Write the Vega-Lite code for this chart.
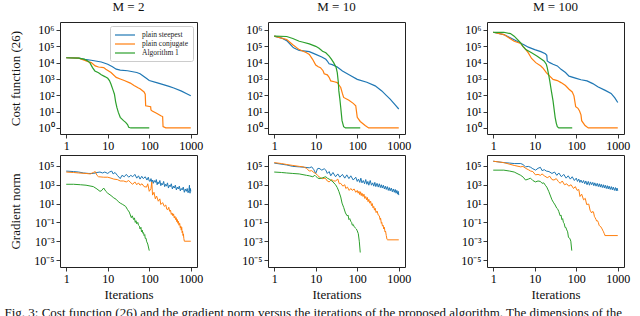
{
  "$schema": "https://vega.github.io/schema/vega-lite/v6.json",
  "padding": {"left": 4, "top": 0, "right": 0, "bottom": 0},
  "background": "white",
  "config": {
    "font": "Liberation Serif",
    "view": {"stroke": "#222222", "strokeWidth": 1},
    "axis": {"grid": false, "domain": false, "tickColor": "#222222", "tickSize": 4, "tickWidth": 0.9,
      "labelFont": "Liberation Serif", "labelFontSize": 12, "labelColor": "#000000", "labelPadding": 2, "labelFlush": false,
      "titleFont": "Liberation Serif", "titleFontSize": 13, "titleFontWeight": "normal", "titleColor": "#111111"},
    "title": {"font": "Liberation Serif", "fontSize": 13, "fontWeight": "normal", "color": "#111111"},
    "legend": {"rowPadding": 0, "labelLimit": 200},
    "line": {"strokeWidth": 1.2}
  },
  "title": {"text": "Fig. 3: Cost function (26) and the gradient norm versus the iterations of the proposed algorithm. The dimensions of the", "orient": "bottom", "anchor": "start", "font": "Liberation Serif", "fontSize": 13, "fontWeight": "normal", "offset": 5, "dx": -4},
  "datasets": {
    "c2s": [{"iter":1,"value":20000},{"iter":2,"value":19000},{"iter":2.8,"value":15800},{"iter":4,"value":14000},{"iter":7,"value":11000},{"iter":10,"value":8000},{"iter":13,"value":5600},{"iter":16,"value":4000},{"iter":20,"value":3500},{"iter":30,"value":3200},{"iter":50,"value":2500},{"iter":60,"value":2100},{"iter":70,"value":1600},{"iter":85,"value":1100},{"iter":100,"value":800},{"iter":150,"value":600},{"iter":190,"value":500},{"iter":300,"value":350},{"iter":390,"value":280},{"iter":600,"value":180},{"iter":800,"value":125},{"iter":1000,"value":93}],
    "c2c": [{"iter":1,"value":20000},{"iter":2,"value":19000},{"iter":2.8,"value":13800},{"iter":3.5,"value":11200},{"iter":4,"value":10000},{"iter":5,"value":6300},{"iter":6,"value":5400},{"iter":8,"value":5000},{"iter":9,"value":4000},{"iter":12,"value":2500},{"iter":16,"value":1250},{"iter":20,"value":1000},{"iter":25,"value":800},{"iter":35,"value":560},{"iter":43,"value":400},{"iter":55,"value":280},{"iter":60,"value":250},{"iter":75,"value":160},{"iter":80,"value":117},{"iter":82,"value":23},{"iter":108,"value":20},{"iter":110,"value":12.6},{"iter":118,"value":11},{"iter":150,"value":8},{"iter":190,"value":5.6},{"iter":210,"value":5},{"iter":215,"value":1.2},{"iter":250,"value":1.02},{"iter":270,"value":1},{"iter":1000,"value":1}],
    "c2a": [{"iter":1,"value":20000},{"iter":2,"value":19000},{"iter":2.8,"value":15800},{"iter":3.3,"value":12600},{"iter":3.7,"value":10000},{"iter":4.3,"value":5000},{"iter":4.9,"value":3100},{"iter":6,"value":2400},{"iter":7,"value":1800},{"iter":8.5,"value":1400},{"iter":10,"value":1100},{"iter":11,"value":800},{"iter":12,"value":480},{"iter":13.5,"value":200},{"iter":14.5,"value":117},{"iter":15.5,"value":40},{"iter":16.6,"value":18},{"iter":18,"value":9},{"iter":20,"value":4.5},{"iter":24,"value":2.8},{"iter":27,"value":2.2},{"iter":30,"value":1.6},{"iter":32,"value":1.1},{"iter":36,"value":1},{"iter":100,"value":1}],
    "c10s": [{"iter":1,"value":420000},{"iter":1.5,"value":320000},{"iter":2,"value":224000},{"iter":2.8,"value":89000},{"iter":3,"value":79000},{"iter":4,"value":56000},{"iter":5,"value":52000},{"iter":7,"value":47000},{"iter":10,"value":32000},{"iter":14,"value":22000},{"iter":17.5,"value":16000},{"iter":19,"value":12600},{"iter":21,"value":8500},{"iter":25,"value":7600},{"iter":33,"value":5400},{"iter":44,"value":3100},{"iter":70,"value":1600},{"iter":100,"value":950},{"iter":170,"value":630},{"iter":270,"value":380},{"iter":390,"value":186},{"iter":500,"value":100},{"iter":620,"value":58},{"iter":800,"value":28},{"iter":1000,"value":14.5}],
    "c10c": [{"iter":1,"value":420000},{"iter":2,"value":263000},{"iter":2.8,"value":126000},{"iter":4,"value":63000},{"iter":6,"value":40000},{"iter":7,"value":32000},{"iter":8.4,"value":16000},{"iter":10,"value":7100},{"iter":11.5,"value":5600},{"iter":13,"value":4900},{"iter":15,"value":3200},{"iter":16,"value":2100},{"iter":19,"value":1800},{"iter":21,"value":1260},{"iter":23,"value":760},{"iter":28,"value":680},{"iter":33,"value":600},{"iter":37,"value":400},{"iter":40,"value":300},{"iter":44,"value":126},{"iter":47,"value":74},{"iter":63,"value":50},{"iter":80,"value":32},{"iter":92,"value":23},{"iter":100,"value":4.5},{"iter":118,"value":2.5},{"iter":155,"value":1.4},{"iter":188,"value":1},{"iter":1000,"value":1}],
    "c10a": [{"iter":1,"value":420000},{"iter":2,"value":400000},{"iter":2.8,"value":300000},{"iter":4,"value":204000},{"iter":5,"value":178000},{"iter":7,"value":141000},{"iter":10,"value":100000},{"iter":12,"value":76000},{"iter":14.6,"value":50000},{"iter":17.5,"value":40000},{"iter":21,"value":25000},{"iter":24,"value":16000},{"iter":27,"value":10000},{"iter":31,"value":5000},{"iter":33,"value":2450},{"iter":35,"value":630},{"iter":36,"value":186},{"iter":38,"value":63},{"iter":40,"value":18},{"iter":43,"value":2.8},{"iter":47,"value":1.2},{"iter":52,"value":1},{"iter":118,"value":1}],
    "c100s": [{"iter":1,"value":725000},{"iter":1.8,"value":525000},{"iter":3.2,"value":250000},{"iter":4.5,"value":160000},{"iter":5.5,"value":126000},{"iter":7,"value":89000},{"iter":10,"value":63000},{"iter":14,"value":47000},{"iter":18,"value":35000},{"iter":19.5,"value":28000},{"iter":20,"value":12600},{"iter":23,"value":10000},{"iter":27.6,"value":8000},{"iter":35,"value":6300},{"iter":43,"value":3900},{"iter":55,"value":2500},{"iter":67,"value":1500},{"iter":100,"value":1100},{"iter":130,"value":900},{"iter":182,"value":760},{"iter":250,"value":520},{"iter":330,"value":330},{"iter":500,"value":200},{"iter":690,"value":130},{"iter":850,"value":70},{"iter":1000,"value":36}],
    "c100c": [{"iter":1,"value":725000},{"iter":1.8,"value":525000},{"iter":3.2,"value":204000},{"iter":4.6,"value":148000},{"iter":5.2,"value":100000},{"iter":6.1,"value":63000},{"iter":7,"value":40000},{"iter":8.4,"value":18000},{"iter":10.6,"value":10000},{"iter":14,"value":6200},{"iter":16,"value":4500},{"iter":19,"value":2450},{"iter":23,"value":1500},{"iter":27.6,"value":950},{"iter":35,"value":800},{"iter":43,"value":600},{"iter":55,"value":400},{"iter":67,"value":235},{"iter":80,"value":160},{"iter":88,"value":93},{"iter":97,"value":20},{"iter":110,"value":16},{"iter":120,"value":11},{"iter":130,"value":6.3},{"iter":135,"value":2.8},{"iter":163,"value":1.4},{"iter":195,"value":1},{"iter":1000,"value":1}],
    "c100a": [{"iter":1,"value":725000},{"iter":1.8,"value":725000},{"iter":2.6,"value":600000},{"iter":3.2,"value":420000},{"iter":4.6,"value":160000},{"iter":5.2,"value":100000},{"iter":6.1,"value":63000},{"iter":8.4,"value":40000},{"iter":11.5,"value":25000},{"iter":16.7,"value":12600},{"iter":19,"value":8000},{"iter":20,"value":4900},{"iter":21.5,"value":2000},{"iter":23,"value":760},{"iter":25,"value":200},{"iter":27.6,"value":46},{"iter":31,"value":4.5},{"iter":33,"value":2},{"iter":35,"value":1.2},{"iter":38,"value":1},{"iter":80,"value":1}],
    "g2s": [{"iter":1,"value":28200},{"iter":1.5,"value":25100},{"iter":2,"value":22400},{"iter":2.6,"value":17800},{"iter":3.5,"value":15800},{"iter":4.5,"value":15800},{"iter":5.5,"value":20000},{"iter":6.5,"value":22400},{"iter":7.5,"value":17800},{"iter":8.5,"value":22400},{"iter":10,"value":15800},{"iter":11,"value":22400},{"iter":12.5,"value":28200},{"iter":13.5,"value":14100},{"iter":15,"value":20000},{"iter":17,"value":10000},{"iter":20,"value":4470},{"iter":22,"value":10000},{"iter":25,"value":7080},{"iter":28,"value":12600},{"iter":32,"value":6310},{"iter":36,"value":10000},{"iter":40,"value":7080},{"iter":45,"value":12600},{"iter":50,"value":5010},{"iter":55,"value":8910},{"iter":60,"value":3980},{"iter":66,"value":7940},{"iter":72,"value":4470},{"iter":80,"value":7080},{"iter":88,"value":3160},{"iter":95,"value":6310},{"iter":100,"value":2500},{"iter":105,"value":2240},{"iter":110,"value":4470},{"iter":115,"value":2000},{"iter":120,"value":3160},{"iter":125,"value":1410},{"iter":132,"value":2820},{"iter":140,"value":1780},{"iter":148,"value":3550},{"iter":155,"value":1000},{"iter":162,"value":2000},{"iter":170,"value":1260},{"iter":180,"value":2820},{"iter":190,"value":794},{"iter":200,"value":1410},{"iter":210,"value":1000},{"iter":222,"value":2240},{"iter":235,"value":630},{"iter":248,"value":1120},{"iter":260,"value":708},{"iter":275,"value":1580},{"iter":290,"value":447},{"iter":305,"value":891},{"iter":320,"value":631},{"iter":340,"value":1260},{"iter":360,"value":355},{"iter":380,"value":708},{"iter":400,"value":447},{"iter":425,"value":891},{"iter":450,"value":282},{"iter":475,"value":562},{"iter":500,"value":355},{"iter":530,"value":708},{"iter":560,"value":224},{"iter":590,"value":398},{"iter":620,"value":282},{"iter":660,"value":562},{"iter":700,"value":158},{"iter":740,"value":355},{"iter":780,"value":200},{"iter":820,"value":398},{"iter":860,"value":141},{"iter":900,"value":251},{"iter":930,"value":891},{"iter":945,"value":178},{"iter":960,"value":126},{"iter":980,"value":398},{"iter":1000,"value":200}],
    "g2c": [{"iter":1,"value":22400},{"iter":1.5,"value":20000},{"iter":2,"value":17800},{"iter":3,"value":15800},{"iter":3.8,"value":14100},{"iter":4.5,"value":20000},{"iter":5,"value":25100},{"iter":5.5,"value":10000},{"iter":6,"value":7080},{"iter":8,"value":6310},{"iter":10,"value":6310},{"iter":12,"value":5010},{"iter":14,"value":3980},{"iter":17,"value":3550},{"iter":20,"value":2510},{"iter":24,"value":2510},{"iter":28,"value":2000},{"iter":32,"value":2820},{"iter":36,"value":1580},{"iter":40,"value":1120},{"iter":45,"value":2000},{"iter":50,"value":1000},{"iter":55,"value":1580},{"iter":60,"value":891},{"iter":67,"value":1260},{"iter":75,"value":631},{"iter":86,"value":562},{"iter":92,"value":1260},{"iter":100,"value":200},{"iter":110,"value":398},{"iter":115,"value":2000},{"iter":120,"value":79.4},{"iter":130,"value":158},{"iter":140,"value":31.6},{"iter":150,"value":63.1},{"iter":165,"value":17.8},{"iter":180,"value":31.6},{"iter":190,"value":7.94},{"iter":210,"value":12.6},{"iter":230,"value":5.01},{"iter":250,"value":7.08},{"iter":265,"value":2.5},{"iter":280,"value":2.24},{"iter":295,"value":4},{"iter":310,"value":1.5},{"iter":325,"value":2},{"iter":340,"value":0.7},{"iter":355,"value":1},{"iter":370,"value":0.5},{"iter":385,"value":0.8},{"iter":400,"value":0.3},{"iter":415,"value":0.45},{"iter":430,"value":0.2},{"iter":445,"value":0.32},{"iter":460,"value":0.12},{"iter":475,"value":0.2},{"iter":490,"value":0.08},{"iter":505,"value":0.13},{"iter":520,"value":0.05},{"iter":540,"value":0.08},{"iter":560,"value":0.025},{"iter":575,"value":0.04},{"iter":590,"value":0.015},{"iter":605,"value":0.03},{"iter":620,"value":0.008},{"iter":635,"value":0.012},{"iter":650,"value":0.004},{"iter":665,"value":0.006},{"iter":680,"value":0.002},{"iter":700,"value":0.001},{"iter":1000,"value":0.001}],
    "g2a": [{"iter":1,"value":1120},{"iter":1.5,"value":1120},{"iter":2.2,"value":1000},{"iter":3,"value":891},{"iter":4.5,"value":631},{"iter":5.5,"value":355},{"iter":6.5,"value":200},{"iter":7,"value":224},{"iter":8,"value":447},{"iter":9,"value":200},{"iter":10,"value":126},{"iter":12,"value":70.8},{"iter":14,"value":39.8},{"iter":16,"value":28.2},{"iter":18,"value":15.8},{"iter":20,"value":11.2},{"iter":23,"value":7.94},{"iter":27,"value":5.01},{"iter":30,"value":2.24},{"iter":33,"value":1.26},{"iter":37,"value":0.316},{"iter":39,"value":0.5},{"iter":42,"value":0.2},{"iter":44,"value":0.3},{"iter":46,"value":0.1},{"iter":48,"value":0.15},{"iter":50,"value":0.07},{"iter":53,"value":0.1},{"iter":55,"value":0.05},{"iter":58,"value":0.04},{"iter":60,"value":0.02},{"iter":63,"value":0.03},{"iter":65,"value":0.01},{"iter":68,"value":0.015},{"iter":70,"value":0.007},{"iter":73,"value":0.008},{"iter":75,"value":0.004},{"iter":78,"value":0.005},{"iter":80,"value":0.002},{"iter":84,"value":0.002},{"iter":86,"value":0.001},{"iter":92,"value":0.0005},{"iter":100,"value":0.0001}],
    "g10s": [{"iter":1,"value":200000},{"iter":2,"value":126000},{"iter":2.8,"value":89100},{"iter":4,"value":79400},{"iter":5.5,"value":70800},{"iter":7,"value":63100},{"iter":8,"value":79400},{"iter":9,"value":39800},{"iter":10,"value":15800},{"iter":11,"value":50100},{"iter":12,"value":56200},{"iter":14,"value":35500},{"iter":16,"value":50100},{"iter":17.5,"value":35500},{"iter":19,"value":15800},{"iter":21,"value":25100},{"iter":23,"value":8910},{"iter":26,"value":20000},{"iter":30,"value":7080},{"iter":34,"value":14100},{"iter":38,"value":6310},{"iter":44,"value":12600},{"iter":50,"value":5010},{"iter":56,"value":11200},{"iter":63,"value":4470},{"iter":70,"value":8910},{"iter":80,"value":3160},{"iter":92,"value":6310},{"iter":100,"value":2240},{"iter":107,"value":3980},{"iter":115,"value":1780},{"iter":122,"value":5010},{"iter":130,"value":1580},{"iter":140,"value":2820},{"iter":150,"value":1260},{"iter":160,"value":3550},{"iter":170,"value":1120},{"iter":180,"value":2240},{"iter":190,"value":891},{"iter":205,"value":2820},{"iter":220,"value":891},{"iter":235,"value":1580},{"iter":250,"value":708},{"iter":265,"value":1780},{"iter":280,"value":631},{"iter":300,"value":1410},{"iter":320,"value":562},{"iter":340,"value":1260},{"iter":360,"value":501},{"iter":380,"value":1000},{"iter":400,"value":447},{"iter":425,"value":891},{"iter":450,"value":355},{"iter":475,"value":708},{"iter":500,"value":316},{"iter":530,"value":631},{"iter":560,"value":251},{"iter":590,"value":501},{"iter":620,"value":224},{"iter":660,"value":447},{"iter":700,"value":178},{"iter":740,"value":355},{"iter":780,"value":158},{"iter":820,"value":316},{"iter":860,"value":126},{"iter":900,"value":251},{"iter":940,"value":100},{"iter":970,"value":200},{"iter":1000,"value":79.4}],
    "g10c": [{"iter":1,"value":224000},{"iter":1.5,"value":178000},{"iter":2,"value":141000},{"iter":2.8,"value":112000},{"iter":4,"value":89100},{"iter":5,"value":79400},{"iter":6,"value":56200},{"iter":7,"value":28200},{"iter":8,"value":31600},{"iter":9,"value":20000},{"iter":10,"value":15800},{"iter":11,"value":10000},{"iter":12,"value":7080},{"iter":13,"value":5620},{"iter":14.5,"value":4470},{"iter":17,"value":5010},{"iter":19,"value":2510},{"iter":21,"value":2000},{"iter":24,"value":3550},{"iter":27,"value":2510},{"iter":30,"value":2510},{"iter":34,"value":3980},{"iter":37,"value":1260},{"iter":40,"value":1410},{"iter":45,"value":708},{"iter":50,"value":1000},{"iter":53,"value":398},{"iter":58,"value":562},{"iter":64,"value":251},{"iter":70,"value":398},{"iter":76,"value":251},{"iter":84,"value":355},{"iter":92,"value":158},{"iter":100,"value":251},{"iter":105,"value":126},{"iter":110,"value":200},{"iter":115,"value":89},{"iter":120,"value":178},{"iter":125,"value":70},{"iter":130,"value":126},{"iter":138,"value":56},{"iter":145,"value":100},{"iter":152,"value":35},{"iter":160,"value":56},{"iter":168,"value":25},{"iter":175,"value":45},{"iter":182,"value":16},{"iter":190,"value":28},{"iter":200,"value":11},{"iter":210,"value":18},{"iter":220,"value":6},{"iter":230,"value":10},{"iter":240,"value":3.5},{"iter":250,"value":5},{"iter":260,"value":2},{"iter":270,"value":3.2},{"iter":285,"value":1.1},{"iter":300,"value":1.6},{"iter":320,"value":0.6},{"iter":340,"value":0.5},{"iter":355,"value":0.2},{"iter":365,"value":0.28},{"iter":380,"value":0.08},{"iter":390,"value":0.1},{"iter":405,"value":0.04},{"iter":420,"value":0.05},{"iter":435,"value":0.02},{"iter":450,"value":0.03},{"iter":465,"value":0.01},{"iter":480,"value":0.012},{"iter":500,"value":0.004},{"iter":520,"value":0.0016},{"iter":540,"value":0.0014},{"iter":1000,"value":0.0014}],
    "g10a": [{"iter":1,"value":22400},{"iter":1.5,"value":20000},{"iter":2,"value":17800},{"iter":2.8,"value":15800},{"iter":4,"value":14100},{"iter":6,"value":10000},{"iter":7,"value":8910},{"iter":8.5,"value":7080},{"iter":9.5,"value":10000},{"iter":10,"value":7940},{"iter":11,"value":5620},{"iter":12,"value":4470},{"iter":14,"value":5010},{"iter":16,"value":6310},{"iter":17.5,"value":7080},{"iter":19,"value":5010},{"iter":21,"value":3980},{"iter":23,"value":3160},{"iter":26,"value":2000},{"iter":30,"value":1000},{"iter":33,"value":501},{"iter":36,"value":200},{"iter":40,"value":50.1},{"iter":43,"value":11.2},{"iter":47,"value":3.98},{"iter":52,"value":1},{"iter":57,"value":0.501},{"iter":60,"value":0.6},{"iter":63,"value":0.2},{"iter":66,"value":0.25},{"iter":70,"value":0.126},{"iter":73,"value":0.1},{"iter":76,"value":0.0501},{"iter":80,"value":0.06},{"iter":83,"value":0.0398},{"iter":87,"value":0.03},{"iter":90,"value":0.0251},{"iter":95,"value":0.02},{"iter":100,"value":0.0126},{"iter":106,"value":0.00631},{"iter":112,"value":0.001},{"iter":118,"value":0.0000631}],
    "g100s": [{"iter":1,"value":316000},{"iter":1.8,"value":224000},{"iter":2.5,"value":200000},{"iter":3.2,"value":178000},{"iter":4.6,"value":178000},{"iter":5.2,"value":141000},{"iter":6,"value":79400},{"iter":7,"value":89100},{"iter":8,"value":70800},{"iter":9,"value":50100},{"iter":10.5,"value":35500},{"iter":12,"value":56200},{"iter":13.7,"value":70800},{"iter":15,"value":31600},{"iter":17,"value":39800},{"iter":19,"value":28200},{"iter":22,"value":25100},{"iter":26,"value":15800},{"iter":30,"value":22400},{"iter":34,"value":10000},{"iter":38,"value":17800},{"iter":44,"value":7080},{"iter":50,"value":12600},{"iter":57,"value":5010},{"iter":64,"value":8910},{"iter":72,"value":3980},{"iter":80,"value":7080},{"iter":90,"value":2820},{"iter":100,"value":5010},{"iter":107,"value":2240},{"iter":115,"value":3980},{"iter":122,"value":1780},{"iter":130,"value":3160},{"iter":140,"value":1580},{"iter":150,"value":2820},{"iter":160,"value":1260},{"iter":170,"value":2510},{"iter":182,"value":1000},{"iter":195,"value":2240},{"iter":208,"value":891},{"iter":220,"value":2000},{"iter":235,"value":1000},{"iter":250,"value":1780},{"iter":265,"value":794},{"iter":280,"value":1580},{"iter":300,"value":708},{"iter":320,"value":1410},{"iter":340,"value":631},{"iter":360,"value":1260},{"iter":380,"value":562},{"iter":400,"value":1120},{"iter":425,"value":501},{"iter":450,"value":1000},{"iter":475,"value":447},{"iter":500,"value":891},{"iter":530,"value":398},{"iter":560,"value":794},{"iter":590,"value":355},{"iter":620,"value":708},{"iter":660,"value":316},{"iter":700,"value":631},{"iter":740,"value":282},{"iter":780,"value":562},{"iter":830,"value":251},{"iter":880,"value":501},{"iter":920,"value":224},{"iter":960,"value":447},{"iter":1000,"value":224}],
    "g100c": [{"iter":1,"value":316000},{"iter":1.8,"value":224000},{"iter":3.2,"value":112000},{"iter":4.6,"value":79400},{"iter":5.2,"value":89100},{"iter":6,"value":56200},{"iter":7,"value":39800},{"iter":8,"value":28200},{"iter":9,"value":25100},{"iter":10.4,"value":11200},{"iter":12,"value":12600},{"iter":13.7,"value":10000},{"iter":15,"value":14100},{"iter":17,"value":8910},{"iter":20,"value":5620},{"iter":23,"value":7940},{"iter":26,"value":3550},{"iter":29,"value":3160},{"iter":33,"value":4470},{"iter":37,"value":2240},{"iter":41,"value":1410},{"iter":46,"value":2510},{"iter":52,"value":1000},{"iter":59,"value":1260},{"iter":66,"value":708},{"iter":75,"value":1000},{"iter":86,"value":398},{"iter":95,"value":631},{"iter":105,"value":251},{"iter":115,"value":316},{"iter":123,"value":56.2},{"iter":135,"value":100},{"iter":150,"value":25.1},{"iter":165,"value":35.5},{"iter":178,"value":7.94},{"iter":200,"value":8.91},{"iter":215,"value":2},{"iter":235,"value":1},{"iter":250,"value":1.5},{"iter":260,"value":1.26},{"iter":275,"value":0.4},{"iter":285,"value":0.316},{"iter":300,"value":0.2},{"iter":309,"value":0.141},{"iter":325,"value":0.15},{"iter":340,"value":0.1},{"iter":355,"value":0.05},{"iter":370,"value":0.0398},{"iter":390,"value":0.035},{"iter":406,"value":0.0251},{"iter":420,"value":0.02},{"iter":440,"value":0.0126},{"iter":455,"value":0.01},{"iter":470,"value":0.00631},{"iter":480,"value":0.006},{"iter":490,"value":0.00398},{"iter":1000,"value":0.00398}],
    "g100a": [{"iter":1,"value":35500},{"iter":1.8,"value":35500},{"iter":2.5,"value":28200},{"iter":3.2,"value":22400},{"iter":4.6,"value":10000},{"iter":5.3,"value":6310},{"iter":6,"value":3160},{"iter":7,"value":3980},{"iter":7.9,"value":5010},{"iter":9,"value":2820},{"iter":10.4,"value":2000},{"iter":12,"value":2510},{"iter":13.7,"value":2240},{"iter":15,"value":1410},{"iter":16.5,"value":1580},{"iter":18,"value":891},{"iter":19.5,"value":562},{"iter":21.7,"value":200},{"iter":24,"value":63.1},{"iter":26,"value":25.1},{"iter":28,"value":14.1},{"iter":31,"value":7.08},{"iter":34,"value":3.16},{"iter":36,"value":2.5},{"iter":38,"value":1.41},{"iter":41,"value":0.501},{"iter":43,"value":0.6},{"iter":45,"value":0.2},{"iter":47,"value":0.25},{"iter":49,"value":0.1},{"iter":51,"value":0.08},{"iter":54,"value":0.0282},{"iter":56,"value":0.03},{"iter":59,"value":0.0158},{"iter":62,"value":0.01},{"iter":65,"value":0.00251},{"iter":70,"value":0.002},{"iter":74,"value":0.001},{"iter":78,"value":0.0001}]
  },
  "resolve": {"scale": {"color": "independent"}, "legend": {"color": "independent"}},
  "spacing": 37,
  "hconcat": [
    {
      "spacing": 2,
      "resolve": {"scale": {"color": "independent"}, "legend": {"color": "independent"}},
      "vconcat": [
        {
          "width": 137, "height": 112,
          "title": {"text": "M = 2", "offset": 8, "font": "Liberation Serif", "fontWeight": "normal", "fontSize": 13},
          "encoding": {
            "x": {"field": "iter", "type": "quantitative", "scale": {"type": "log", "domain": [0.708, 1413]}, "axis": {"values": [1, 10, 100, 1000], "format": "d", "title": null}},
            "y": {"field": "value", "type": "quantitative", "scale": {"type": "log", "domain": [0.427, 3090000]}, "axis": {"values": [1, 10, 100, 1000, 10000, 100000, 1000000], "labelExpr": "'10' + (round(log(datum.value)/LN10) < 0 ? '⁻' : '') + substring('⁰¹²³⁴⁵⁶⁷⁸⁹', abs(round(log(datum.value)/LN10)), abs(round(log(datum.value)/LN10)) + 1)", "title": "Cost function (26)", "titleFontWeight": "normal", "titlePadding": 8, "minExtent": 30, "maxExtent": 30}}
          },
          "layer": [
            {"data": {"name": "c2s"}, "mark": "line", "encoding": {"color": {"datum": "plain steepest", "scale": {"domain": ["plain steepest", "plain conjugate", "Algorithm 1"], "range": ["#1f77b4", "#ff7f0e", "#2ca02c"]}, "legend": {"title": null, "orient": "top-right", "offset": 4, "symbolType": "M-1,0H4", "symbolSize": 64, "symbolStrokeWidth": 1.5, "labelFont": "Liberation Serif", "labelFontSize": 7.5, "labelColor": "#222222", "rowPadding": 0, "padding": 4, "strokeColor": "#cccccc", "fillColor": "#ffffff", "cornerRadius": 2, "labelOffset": 18}}}},
            {"data": {"name": "c2c"}, "mark": "line", "encoding": {"color": {"datum": "plain conjugate"}}},
            {"data": {"name": "c2a"}, "mark": "line", "encoding": {"color": {"datum": "Algorithm 1"}}}
          ]
        },
        {
          "width": 137, "height": 112,
          "encoding": {
            "x": {"field": "iter", "type": "quantitative", "scale": {"type": "log", "domain": [0.708, 1413]}, "axis": {"values": [1, 10, 100, 1000], "format": "d", "title": "Iterations", "titleFontWeight": "normal", "titlePadding": 4}},
            "y": {"field": "value", "type": "quantitative", "scale": {"type": "log", "domain": [0.00000182, 1445000]}, "axis": {"values": [0.00001, 0.001, 0.1, 10, 1000, 100000], "labelExpr": "'10' + (round(log(datum.value)/LN10) < 0 ? '⁻' : '') + substring('⁰¹²³⁴⁵⁶⁷⁸⁹', abs(round(log(datum.value)/LN10)), abs(round(log(datum.value)/LN10)) + 1)", "title": "Gradient norm", "titleFontWeight": "normal", "titlePadding": 8, "minExtent": 30, "maxExtent": 30}}
          },
          "layer": [
            {"data": {"name": "g2s"}, "mark": {"type": "line", "color": "#1f77b4", "strokeWidth": 1}},
            {"data": {"name": "g2c"}, "mark": {"type": "line", "color": "#ff7f0e", "strokeWidth": 1}},
            {"data": {"name": "g2a"}, "mark": {"type": "line", "color": "#2ca02c", "strokeWidth": 1}}
          ]
        }
      ]
    },
    {
      "spacing": 48,
      "hconcat": [
        {
          "spacing": 2,
          "vconcat": [
            {
              "width": 137, "height": 112,
              "title": {"text": "M = 10", "offset": 8, "font": "Liberation Serif", "fontWeight": "normal", "fontSize": 13},
              "encoding": {
                "x": {"field": "iter", "type": "quantitative", "scale": {"type": "log", "domain": [0.708, 1413]}, "axis": {"values": [1, 10, 100, 1000], "format": "d", "title": null}},
                "y": {"field": "value", "type": "quantitative", "scale": {"type": "log", "domain": [0.427, 3090000]}, "axis": {"values": [1, 10, 100, 1000, 10000, 100000, 1000000], "labelExpr": "'10' + (round(log(datum.value)/LN10) < 0 ? '⁻' : '') + substring('⁰¹²³⁴⁵⁶⁷⁸⁹', abs(round(log(datum.value)/LN10)), abs(round(log(datum.value)/LN10)) + 1)", "title": null}}
              },
              "layer": [
                {"data": {"name": "c10s"}, "mark": {"type": "line", "color": "#1f77b4"}},
                {"data": {"name": "c10c"}, "mark": {"type": "line", "color": "#ff7f0e"}},
                {"data": {"name": "c10a"}, "mark": {"type": "line", "color": "#2ca02c"}}
              ]
            },
            {
              "width": 137, "height": 112,
              "encoding": {
                "x": {"field": "iter", "type": "quantitative", "scale": {"type": "log", "domain": [0.708, 1413]}, "axis": {"values": [1, 10, 100, 1000], "format": "d", "title": "Iterations", "titleFontWeight": "normal", "titlePadding": 4}},
                "y": {"field": "value", "type": "quantitative", "scale": {"type": "log", "domain": [0.00000182, 1445000]}, "axis": {"values": [0.00001, 0.001, 0.1, 10, 1000, 100000], "labelExpr": "'10' + (round(log(datum.value)/LN10) < 0 ? '⁻' : '') + substring('⁰¹²³⁴⁵⁶⁷⁸⁹', abs(round(log(datum.value)/LN10)), abs(round(log(datum.value)/LN10)) + 1)", "title": null}}
              },
              "layer": [
                {"data": {"name": "g10s"}, "mark": {"type": "line", "color": "#1f77b4", "strokeWidth": 1}},
                {"data": {"name": "g10c"}, "mark": {"type": "line", "color": "#ff7f0e", "strokeWidth": 1}},
                {"data": {"name": "g10a"}, "mark": {"type": "line", "color": "#2ca02c", "strokeWidth": 1}}
              ]
            }
          ]
        },
        {
          "spacing": 2,
          "vconcat": [
            {
              "width": 137, "height": 112,
              "title": {"text": "M = 100", "offset": 8, "font": "Liberation Serif", "fontWeight": "normal", "fontSize": 13},
              "encoding": {
                "x": {"field": "iter", "type": "quantitative", "scale": {"type": "log", "domain": [0.708, 1413]}, "axis": {"values": [1, 10, 100, 1000], "format": "d", "title": null}},
                "y": {"field": "value", "type": "quantitative", "scale": {"type": "log", "domain": [0.427, 3090000]}, "axis": {"values": [1, 10, 100, 1000, 10000, 100000, 1000000], "labelExpr": "'10' + (round(log(datum.value)/LN10) < 0 ? '⁻' : '') + substring('⁰¹²³⁴⁵⁶⁷⁸⁹', abs(round(log(datum.value)/LN10)), abs(round(log(datum.value)/LN10)) + 1)", "title": null}}
              },
              "layer": [
                {"data": {"name": "c100s"}, "mark": {"type": "line", "color": "#1f77b4"}},
                {"data": {"name": "c100c"}, "mark": {"type": "line", "color": "#ff7f0e"}},
                {"data": {"name": "c100a"}, "mark": {"type": "line", "color": "#2ca02c"}}
              ]
            },
            {
              "width": 137, "height": 112,
              "encoding": {
                "x": {"field": "iter", "type": "quantitative", "scale": {"type": "log", "domain": [0.708, 1413]}, "axis": {"values": [1, 10, 100, 1000], "format": "d", "title": "Iterations", "titleFontWeight": "normal", "titlePadding": 4}},
                "y": {"field": "value", "type": "quantitative", "scale": {"type": "log", "domain": [0.00000182, 1445000]}, "axis": {"values": [0.00001, 0.001, 0.1, 10, 1000, 100000], "labelExpr": "'10' + (round(log(datum.value)/LN10) < 0 ? '⁻' : '') + substring('⁰¹²³⁴⁵⁶⁷⁸⁹', abs(round(log(datum.value)/LN10)), abs(round(log(datum.value)/LN10)) + 1)", "title": null}}
              },
              "layer": [
                {"data": {"name": "g100s"}, "mark": {"type": "line", "color": "#1f77b4", "strokeWidth": 1}},
                {"data": {"name": "g100c"}, "mark": {"type": "line", "color": "#ff7f0e", "strokeWidth": 1}},
                {"data": {"name": "g100a"}, "mark": {"type": "line", "color": "#2ca02c", "strokeWidth": 1}}
              ]
            }
          ]
        }
      ]
    }
  ]
}
